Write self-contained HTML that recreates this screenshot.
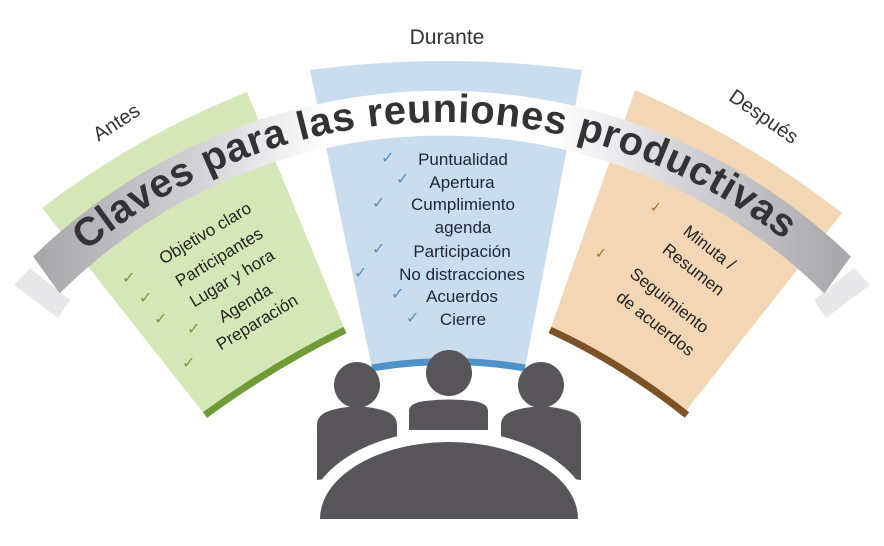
<!DOCTYPE html>
<html><head><meta charset="utf-8"><style>
html,body{margin:0;padding:0;background:#fff;overflow:hidden;}
svg{display:block;font-family:"Liberation Sans",sans-serif;}
</style></head><body>
<svg width="884" height="546" viewBox="0 0 884 546" xmlns="http://www.w3.org/2000/svg">
<defs>
<linearGradient id="bg" x1="0" x2="1" y1="0" y2="0">
<stop offset="0" stop-color="#a6a6aa"/>
<stop offset="0.2" stop-color="#d2d2d5"/>
<stop offset="0.36" stop-color="#ffffff"/>
<stop offset="0.64" stop-color="#ffffff"/>
<stop offset="0.8" stop-color="#d2d2d5"/>
<stop offset="1" stop-color="#a6a6aa"/>
</linearGradient>
<path id="arc" d="M -38.6 399.5 A 555 555 0 0 1 922.6 399.5"/>
</defs>

<!-- panels -->
<path d="M42,208 Q136,136 247,92 L345,330 Q272,366 205,415 Z" fill="#d6e7b7"/>
<path d="M310,70 Q446,52 582,70 L525,368 Q449,355 372,368 Z" fill="#c9ddee"/>
<path d="M635,90 Q747,139 842,213 L685,412 Q620,362 550,330 Z" fill="#f3d7b5"/>

<!-- bottom bars -->
<path d="M205,415 Q272,366 345,330" fill="none" stroke="#6e9b35" stroke-width="7"/>
<path d="M372,368 Q449,355 525,368" fill="none" stroke="#4f92c8" stroke-width="7"/>
<path d="M550,330 Q620,362 687,415" fill="none" stroke="#7d5126" stroke-width="7"/>

<!-- banner end shadows -->
<path d="M14,285 L30,268 L70,300 L58,318 Z" fill="#e8e8ea"/>
<path d="M870,285 L854,268 L814,300 L826,318 Z" fill="#e8e8ea"/>

<!-- banner -->
<path d="M33.2,256.5 A587 587 0 0 1 850.8,256.5 L824.3,293.4 A542 542 0 0 0 59.7,293.4 Z" fill="url(#bg)"/>
<text font-size="40" font-weight="bold" fill="#333336"><textPath href="#arc" startOffset="572" text-anchor="middle" textLength="755" lengthAdjust="spacing">Claves para las reuniones productivas</textPath></text>

<!-- headers -->
<text x="447" y="44" font-size="21" fill="#333" text-anchor="middle">Durante</text>
<text transform="translate(120,128) rotate(-33)" font-size="20" fill="#333" text-anchor="middle">Antes</text>
<text transform="translate(760,122) rotate(35)" font-size="20" fill="#333" text-anchor="middle">Después</text>

<!-- left items -->
<g font-size="17" fill="#222" text-anchor="middle">
<text transform="translate(208,238) rotate(-31)">Objetivo claro</text>
<text transform="translate(222,262) rotate(-31)">Participantes</text>
<text transform="translate(235,283) rotate(-31)">Lugar y hora</text>
<text transform="translate(248,308) rotate(-31)">Agenda</text>
<text transform="translate(260,327) rotate(-31)">Preparación</text>
</g>
<g font-size="16" fill="#7a9a3a">
<text x="122" y="283">✓</text><text x="139" y="303">✓</text><text x="154" y="324">✓</text><text x="187" y="334">✓</text><text x="182" y="368">✓</text>
</g>

<!-- center items -->
<g font-size="17" fill="#1e2633" text-anchor="middle">
<text x="463" y="165">Puntualidad</text>
<text x="462" y="188">Apertura</text>
<text x="463" y="210">Cumplimiento</text>
<text x="463" y="233">agenda</text>
<text x="462" y="257">Participación</text>
<text x="462" y="280">No distracciones</text>
<text x="462" y="302">Acuerdos</text>
<text x="463" y="325">Cierre</text>
</g>
<g font-size="16" fill="#5b8fb8">
<text x="381" y="163">✓</text><text x="396" y="184">✓</text><text x="372" y="208">✓</text><text x="372" y="254">✓</text><text x="354" y="278">✓</text><text x="391" y="299">✓</text><text x="406" y="323">✓</text>
</g>

<!-- right items -->
<g font-size="17" fill="#222" text-anchor="middle">
<text transform="translate(706,252) rotate(38)">Minuta /</text>
<text transform="translate(690,274) rotate(38)">Resumen</text>
<text transform="translate(666,305) rotate(38)">Seguimiento</text>
<text transform="translate(652,328) rotate(38)">de acuerdos</text>
</g>
<g font-size="14" fill="#a0762e">
<text x="650" y="212">✓</text><text x="595" y="258">✓</text>
</g>

<!-- people -->
<g fill="#58555a">
<circle cx="357" cy="385" r="23"/>
<circle cx="449" cy="373" r="23"/>
<circle cx="541" cy="385" r="23"/>
<path d="M317,480 L317,425 Q317,414 332,410 Q357,403 382,410 Q397,414 397,425 L397,470 Z"/>
<path d="M501,470 L501,425 Q501,414 516,410 Q541,403 566,410 Q581,414 581,425 L581,480 Z"/>
<path d="M409,430 L409,411 Q409,403 425,401 Q449,398 473,401 Q488,403 488,411 L488,430 Z"/>
</g>
<path d="M307,519 A142 89 0 0 1 591 519 Z" fill="#fff"/>
<path d="M320,519 A129 77 0 0 1 578 519 Z" fill="#58555a"/>
</svg>
</body></html>
